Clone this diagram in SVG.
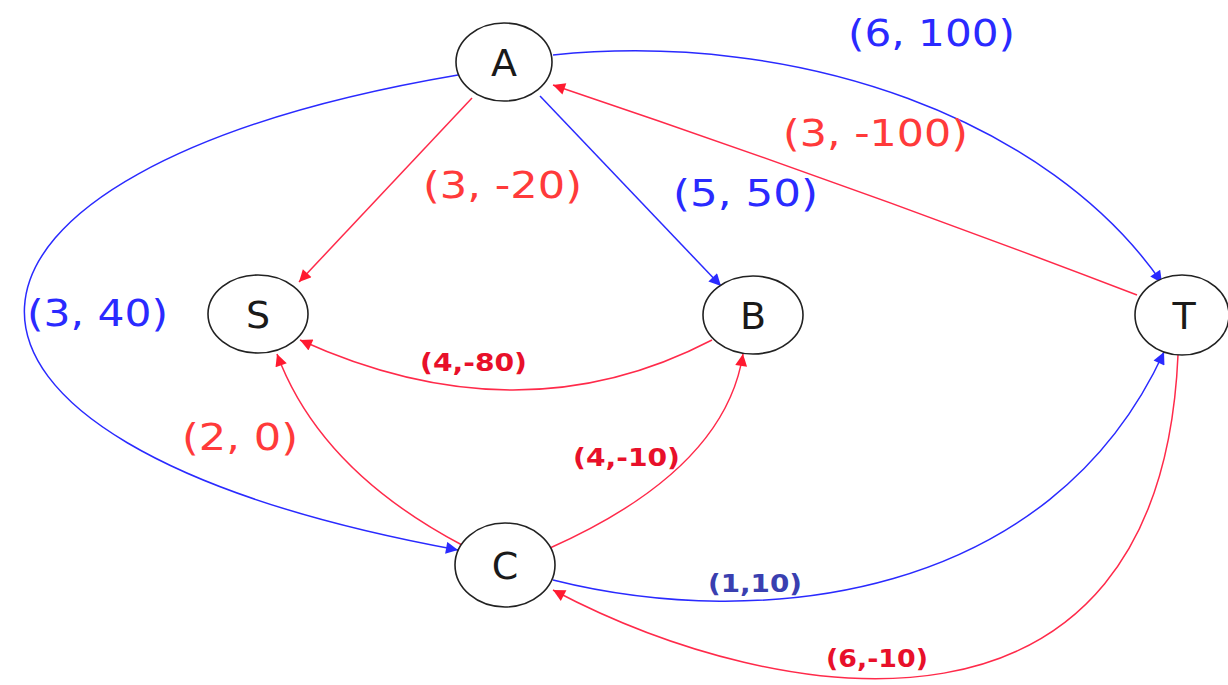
<svg xmlns="http://www.w3.org/2000/svg" width="1228" height="685" viewBox="0 0 1228 685">
<defs>
<style>
.node ellipse{fill:#fff;stroke:#222;stroke-width:1.6}
.node text{font-family:"DejaVu Sans",sans-serif;font-size:38px;fill:#1a1a1a;text-anchor:middle}
.e{fill:none;stroke-width:1.5}
.b{stroke:#2a2aff}
.r{stroke:#ff2a4a}
.lb{font-family:"DejaVu Sans",sans-serif;font-size:38px}
.ls{font-family:"DejaVu Sans",sans-serif;font-size:25px;font-weight:bold}
</style>
<marker id="ab" viewBox="0 0 10 10" refX="10" refY="5" markerWidth="14" markerHeight="12" markerUnits="userSpaceOnUse" orient="auto"><path d="M0,0L10,5L0,10z" fill="#2a2aff"/></marker>
<marker id="ar" viewBox="0 0 10 10" refX="10" refY="5" markerWidth="14" markerHeight="12" markerUnits="userSpaceOnUse" orient="auto"><path d="M0,0L10,5L0,10z" fill="#ff1a30"/></marker>
</defs>
<rect width="1228" height="685" fill="#fff"/>
<g id="edges">
<path class="e b" d="M553,55 C 800,30 1050,120 1162,283" marker-end="url(#ab)"/>
<path class="e r" d="M1137,295 Q 850,185 553,85" marker-end="url(#ar)"/>
<path class="e r" d="M472,98 L299,282" marker-end="url(#ar)"/>
<path class="e b" d="M540,96 L721,286" marker-end="url(#ab)"/>
<path class="e b" d="M458,75 C -100,170 -140,440 458,550" marker-end="url(#ab)"/>
<path class="e r" d="M712,340 Q 520,440 300,340" marker-end="url(#ar)"/>
<path class="e r" d="M462,545 Q 320,470 277,354" marker-end="url(#ar)"/>
<path class="e r" d="M550,548 Q 725,470 743,354" marker-end="url(#ar)"/>
<path class="e b" d="M553,580 C 760,632 1050,600 1164,352" marker-end="url(#ab)"/>
<path class="e r" d="M1178,355 C 1160,770 780,710 553,590" marker-end="url(#ar)"/>
</g>
<g id="node-A" class="node"><ellipse cx="504" cy="62" rx="48" ry="39"/><text x="504" y="76">A</text></g>
<g id="node-S" class="node"><ellipse cx="258" cy="314" rx="50" ry="39"/><text x="258" y="328">S</text></g>
<g id="node-B" class="node"><ellipse cx="753" cy="315" rx="50" ry="39"/><text x="753" y="329">B</text></g>
<g id="node-T" class="node"><ellipse cx="1182" cy="315" rx="47" ry="40"/><text x="1184" y="329">T</text></g>
<g id="node-C" class="node"><ellipse cx="505" cy="565" rx="50" ry="42"/><text x="505" y="579">C</text></g>
<g id="labels">
<text class="lb" x="848" y="46" fill="#2a2aff" textLength="167" lengthAdjust="spacingAndGlyphs">(6, 100)</text>
<text class="lb" x="783" y="146" fill="#ff3a3a" textLength="185" lengthAdjust="spacingAndGlyphs">(3, -100)</text>
<text class="lb" x="423" y="198" fill="#ff3a3a" textLength="159" lengthAdjust="spacingAndGlyphs">(3, -20)</text>
<text class="lb" x="673" y="206" fill="#2a2aff" textLength="145" lengthAdjust="spacingAndGlyphs">(5, 50)</text>
<text class="lb" x="27" y="326" fill="#2a2aff" textLength="141" lengthAdjust="spacingAndGlyphs">(3, 40)</text>
<text class="lb" x="182" y="450" fill="#ff3a3a" textLength="116" lengthAdjust="spacingAndGlyphs">(2, 0)</text>
<text class="ls" x="420" y="371" fill="#e8102a" textLength="107" lengthAdjust="spacingAndGlyphs">(4,-80)</text>
<text class="ls" x="573" y="466" fill="#e8102a" textLength="107" lengthAdjust="spacingAndGlyphs">(4,-10)</text>
<text class="ls" x="708" y="592" fill="#3a3fb0" textLength="94" lengthAdjust="spacingAndGlyphs">(1,10)</text>
<text class="ls" x="826" y="667" fill="#e8102a" textLength="102" lengthAdjust="spacingAndGlyphs">(6,-10)</text>
</g>
</svg>
